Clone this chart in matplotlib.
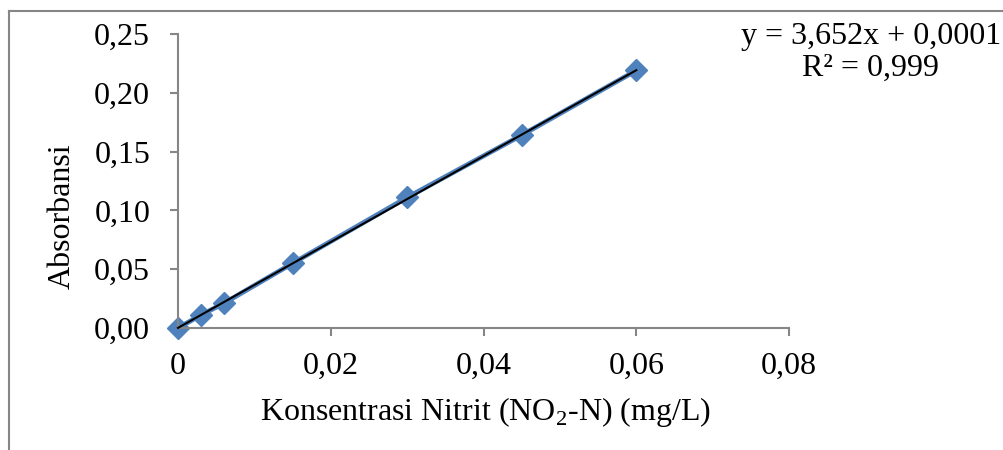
import matplotlib
matplotlib.use("Agg")
import matplotlib.pyplot as plt
from matplotlib.lines import Line2D
from matplotlib.ticker import FuncFormatter
import numpy as np

# data
konsentrasi = [0, 0.003, 0.006, 0.015, 0.03, 0.045, 0.06]
absorbansi = [0, 0.011, 0.021, 0.055, 0.111, 0.164, 0.219]
slope = 3.652
intercept = 0.0001
x_ticks = [0, 0.02, 0.04, 0.06, 0.08]
y_ticks = [0, 0.05, 0.10, 0.15, 0.20, 0.25]

plt.rcParams['font.family'] = ['Liberation Serif', 'DejaVu Serif']
plt.rcParams['mathtext.fontset'] = 'custom'
plt.rcParams['mathtext.rm'] = 'Liberation Serif'
FS = 23
GRAY = '#868686'
BLUE = '#4F81BD'


def fmt_x(v, pos):
    if v == 0:
        return "0"
    return f"{v:.2f}".replace(".", ",")


def fmt_y(v, pos):
    return f"{v:.2f}".replace(".", ",")


def main():
    fig = plt.figure(figsize=(10.04, 4.5), dpi=100)
    ax = fig.add_axes([0.1773, 0.2711, 0.6086, 0.6533])

    # chart frame (left and top edges visible)
    fig.add_artist(Line2D([9 / 1004, 9 / 1004], [1 - 11 / 450, 0], color=GRAY, lw=1.5,
                          transform=fig.transFigure))
    fig.add_artist(Line2D([9 / 1004, 1], [1 - 11 / 450, 1 - 11 / 450], color=GRAY, lw=1.5,
                          transform=fig.transFigure))

    ax.plot(konsentrasi, absorbansi, color=BLUE, lw=3.5, marker='D', markersize=11,
            markerfacecolor=BLUE, markeredgecolor=BLUE, zorder=2, clip_on=False)
    xt = np.array([konsentrasi[0], konsentrasi[-1]])
    ax.plot(xt, slope * xt + intercept, color='black', lw=1.5, zorder=3, clip_on=False)

    ax.set_xlim(0, 0.08)
    ax.set_ylim(0, 0.25)
    ax.set_xticks(x_ticks)
    ax.set_yticks(y_ticks)
    ax.xaxis.set_major_formatter(FuncFormatter(fmt_x))
    ax.yaxis.set_major_formatter(FuncFormatter(fmt_y))

    for s in ['top', 'right']:
        ax.spines[s].set_visible(False)
    for s in ['left', 'bottom']:
        ax.spines[s].set_color(GRAY)
        ax.spines[s].set_linewidth(1.5)
    ax.tick_params(axis='both', direction='out', length=6, width=1.5, color=GRAY,
                   labelsize=FS)
    ax.tick_params(axis='y', pad=14)
    ax.tick_params(axis='x', pad=11)

    ax.set_xlabel(r"Konsentrasi Nitrit (NO$_\mathregular{2}$-N) (mg/L)", fontsize=FS)
    ax.xaxis.set_label_coords(0.503, -0.228)
    ax.set_ylabel("Absorbansi", fontsize=FS)
    ax.yaxis.set_label_coords(-0.165, 0.38)

    fig.text(871 / 1004, 1 - 22 / 450, "y = 3,652x + 0,0001\nR² = 0,999", fontsize=FS,
             ha='center', va='top', linespacing=1.12)

    plt.savefig("out.png", dpi=100)


if __name__ == "__main__":
    main()
